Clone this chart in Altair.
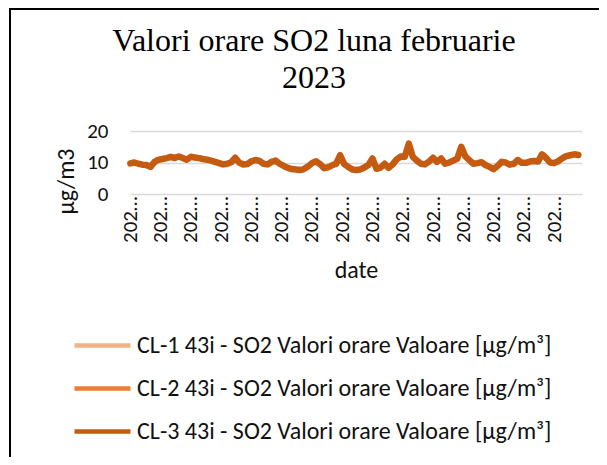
import altair as alt
import pandas as pd

# ---- data ----
series_names = [
    "CL-1 43i - SO2 Valori orare Valoare [µg/m³]",
    "CL-2 43i - SO2 Valori orare Valoare [µg/m³]",
    "CL-3 43i - SO2 Valori orare Valoare [µg/m³]",
]
series_colors = ["#F4B183", "#ED7D31", "#C55A11"]

# CL-3 values, one reading every 6 hours from 2023-02-01 00:00
cl3_values = [
    9.7, 10.0, 9.6, 9.3, 9.2, 8.6, 10.2, 10.9, 11.1, 11.4,
    11.8, 11.4, 11.9, 11.4, 10.9, 11.8, 11.6, 11.4, 11.1, 10.9,
    10.6, 10.2, 9.8, 9.4, 9.6, 10.1, 11.5, 9.9, 9.4, 9.5,
    10.4, 10.8, 10.5, 9.6, 9.4, 10.2, 10.6, 9.6, 8.9, 8.3,
    7.9, 7.8, 7.6, 7.9, 8.7, 9.8, 10.4, 9.5, 8.2, 8.5,
    9.1, 9.6, 12.3, 9.5, 8.6, 7.8, 7.6, 7.8, 8.4, 9.2,
    11.3, 8.0, 8.4, 9.6, 8.3, 9.4, 11.0, 11.9, 11.8, 16.0,
    11.8, 10.6, 9.6, 9.4, 10.3, 11.5, 10.2, 11.3, 9.6, 10.0,
    10.6, 11.2, 15.0, 12.0, 10.7, 9.6, 9.8, 10.1, 9.2, 8.6,
    7.9, 8.9, 10.2, 10.0, 9.3, 9.6, 10.8, 9.9, 9.9, 10.3,
    10.5, 10.3, 12.6, 11.5, 10.0, 9.8, 10.4, 11.3, 12.0, 12.3,
    12.6, 12.4,
]
step_hours = 6
label_hours = [0, 45, 90, 135, 180, 225, 270, 315, 360, 405, 450, 495, 540, 585, 630]
y_ticks = [0, 10, 20]

title_lines = ["Valori orare SO2 luna februarie", "2023"]
x_title = "date"
y_title = "µg/m3"

# ---- build table ----
start = pd.Timestamp("2023-02-01 00:00")
df = pd.DataFrame({
    "date": [start + pd.Timedelta(hours=step_hours * i) for i in range(len(cl3_values))],
    "value": cl3_values,
    "series": series_names[2],
})

def dt(h, minutes=0):
    t = start + pd.Timedelta(hours=h, minutes=minutes)
    return alt.DateTime(year=t.year, month=t.month, date=t.day, hours=t.hour, minutes=t.minute)

tick_values = [dt(h) for h in label_hours]
x_domain = [dt(-1, 30), dt(671, 30)]

sans = "Calibri, Carlito, Lato, sans-serif"

line = alt.Chart(df).mark_line(strokeWidth=6.5, strokeJoin="round", strokeCap="round").encode(
    x=alt.X(
        "date:T",
        scale=alt.Scale(domain=x_domain, nice=False),
        axis=alt.Axis(
            values=tick_values, format="%Y-%m-%d %H:%M", labelAngle=270,
            labelLimit=50, labelPadding=2, title=x_title, titlePadding=16,
            grid=False, domain=False, ticks=False,
        ),
    ),
    y=alt.Y(
        "value:Q",
        scale=alt.Scale(domain=[0, 20], nice=False),
        axis=alt.Axis(values=y_ticks, title=y_title, labelPadding=22, titlePadding=8,
                      titleY=50, domain=False, ticks=False, grid=True),
    ),
    color=alt.Color(
        "series:N",
        scale=alt.Scale(domain=series_names, range=series_colors),
        legend=alt.Legend(
            title=None, orient="none", legendX=-58, legendY=184, direction="vertical",
            symbolType="stroke", symbolSize=3136, symbolStrokeWidth=4.5,
            labelFont=sans, labelFontSize=24, labelColor="#111111", labelLimit=600,
            labelOffset=4, rowPadding=-12,
        ),
    ),
)

frame_left = alt.Chart(alt.Data(values=[{"k": 1}])).mark_rule(color="black", strokeWidth=2).encode(
    x=alt.value(-120), y=alt.value(-122), y2=alt.value(330)
)
frame_top = alt.Chart(alt.Data(values=[{"k": 1}])).mark_rule(color="black", strokeWidth=2).encode(
    x=alt.value(-121), x2=alt.value(480), y=alt.value(-122)
)

chart = alt.layer(line, frame_left, frame_top).properties(
    width=452,
    height=63,
    padding={"left": 122, "top": 123, "right": 17, "bottom": 263},
    autosize=alt.AutoSizeParams(type="none"),
    title=alt.Title(
        title_lines, font="Liberation Serif", fontSize=32, fontWeight="normal",
        color="black", anchor="middle", frame="group", dx=-42, offset=-87, lineHeight=37,
    ),
).configure_view(stroke=None).configure_axis(
    labelFont=sans, labelFontSize=21, labelColor="#111111",
    titleFont=sans, titleFontSize=24, titleFontWeight="normal", titleColor="#111111",
    gridColor="#D9D9D9", gridWidth=1.3,
)

chart.save("out.html", embed_options={"renderer": "svg", "actions": False})
